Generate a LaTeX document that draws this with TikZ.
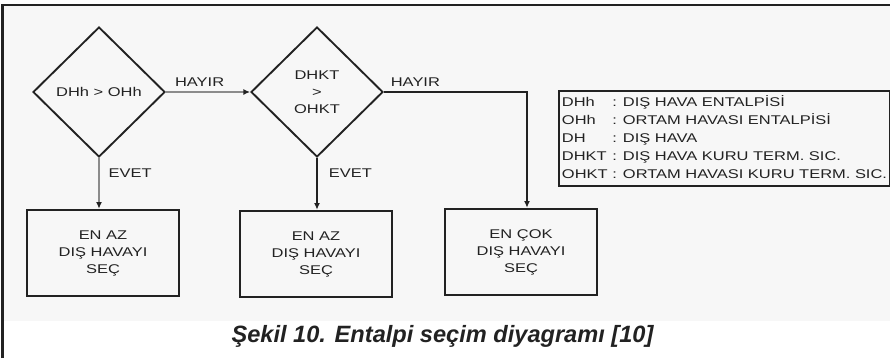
\documentclass[tikz,border=0pt]{standalone}
\usepackage{fontspec}
\setmainfont{Liberation Sans}
\newfontfamily\diagfont[FakeStretch=1.3]{Liberation Sans}
\usetikzlibrary{shapes.geometric,arrows.meta}
\definecolor{paper}{HTML}{F7F7F7}
\definecolor{ink}{HTML}{222222}

\begin{document}
\begin{tikzpicture}[x=0.75pt,y=-0.75pt,
	every node/.style={font=\diagfont\fontsize{9.5}{12.75}\selectfont, text=ink},
	test/.style={diamond, draw=ink, line width=1.4pt, minimum width=99pt, minimum height=97.5pt, inner sep=0pt, align=center},
	act/.style={rectangle, draw=ink, line width=1.4pt, minimum width=114pt, minimum height=65pt, align=center},
	key/.style={rectangle, draw=ink, line width=1.4pt, minimum width=245pt, minimum height=70pt, inner sep=2pt, font=\diagfont\fontsize{9.5}{13.5}\selectfont},
	flow/.style={draw=ink, line width=1.1pt, -{Latex[length=5pt,width=4.5pt,color=ink]}},
	flowgray/.style={flow, draw=black!45, line width=1.8pt}]
		\useasboundingbox (0,0) rectangle (890,358);
		\fill[paper] (3,5) rectangle (890,321);
		\draw[ink, line width=1.5pt] (2.5,358) -- (2.5,4.5) -- (890,4.5);

		\node[test] (d1) at (99,92) {DHh > OHh};
		\node[test] (d2) at (317,92) {DHKT\\>\\OHKT};
		\node[act] (b1) at (103,253) {EN AZ\\DIŞ HAVAYI\\SEÇ};
		\node[act] (b2) at (316,254) {EN AZ\\DIŞ HAVAYI\\SEÇ};
		\node[act] (b3) at (521,252) {EN ÇOK\\DIŞ HAVAYI\\SEÇ};
		\node[key] (leg) at (724.5,138.5) {%
			\begin{tabular}{@{}l@{ }l@{}}
				DHh & : DIŞ HAVA ENTALPİSİ\\
				OHh & : ORTAM HAVASI ENTALPİSİ\\
				DH & : DIŞ HAVA\\
				DHKT & : DIŞ HAVA KURU TERM. SIC.\\
				OHKT & : ORTAM HAVASI KURU TERM. SIC.
			\end{tabular}};

		\draw[flowgray](d1.east) to node [pos=0.4, above] {HAYIR}(d2.west);
		\draw[flowgray](d1.south) to node [pos=0.3, right=3pt] {EVET}(d1.south |- b1.north);
		\draw[flow](d2.south) to node [pos=0.3, right=5pt] {EVET}(d2.south |- b2.north);
		\draw[flow](d2.east) -| node [pos=0.11, above] {HAYIR}([xshift=4.5pt]b3.north);

		\node[font=\fontsize{17.7}{20}\selectfont\bfseries\itshape, anchor=base] (cap) at (442.5,342) {Şekil 10. Entalpi seçim diyagramı [10]};
\end{tikzpicture}
\end{document}
